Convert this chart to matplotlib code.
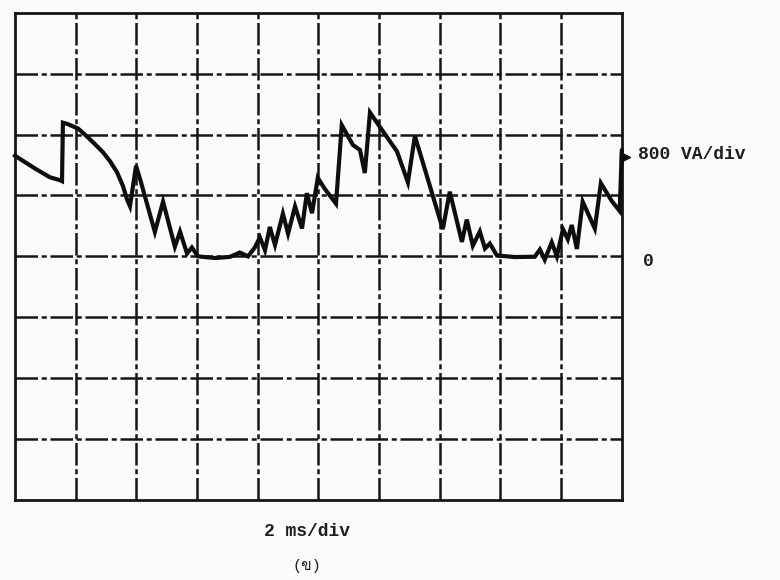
import matplotlib
matplotlib.use("Agg")
import matplotlib.pyplot as plt
from matplotlib import font_manager
from matplotlib.ft2font import FT2Font

# ---- data (time in ms, power in VA) ----
time_ms = [0.00, 0.66, 1.15, 1.48, 1.55, 1.58, 1.71, 2.08, 2.37, 2.64, 2.90, 3.13,
           3.36, 3.56, 3.69, 3.79, 3.99, 4.15, 4.61, 4.88, 5.27, 5.44, 5.67, 5.83,
           6.03, 6.59, 7.08, 7.41, 7.68, 7.91, 8.07, 8.24, 8.40, 8.57, 8.83, 9.00,
           9.23, 9.46, 9.62, 9.79, 9.98, 10.21, 10.58, 10.77, 11.14, 11.37, 11.53,
           11.70, 12.13, 12.59, 12.95, 13.18, 14.10, 14.33, 14.73, 14.89, 15.09,
           15.32, 15.49, 15.65, 15.88, 16.47, 17.13, 17.30, 17.46, 17.69, 17.86,
           18.06, 18.22, 18.35, 18.52, 18.71, 19.11, 19.31, 19.67, 19.93, 20.00]
power_va = [1322, 1154, 1039, 1001, 988, 1756, 1742, 1679, 1576, 1472, 1368, 1251,
            1107, 923, 751, 659, 1190, 978, 321, 719, 127, 325, 37, 116,
            0, -22, -7, 50, 0, 119, 251, 81, 386, 149, 561, 298,
            656, 366, 830, 567, 1031, 887, 692, 1724, 1462, 1398, 1095,
            1890, 1641, 1379, 972, 1582, 358, 849, 190, 483, 140,
            327, 103, 169, 13, -9, -5, 89, -44, 184, 0,
            357, 225, 412, 97, 719, 365, 961, 726, 595, 1388]

x_divisions = 10
y_divisions = 8
ms_per_div = 2
va_per_div = 800

y_label = "800 VA/div"
zero_label = "0"
x_label = "2 ms/div"
caption = "(\u0e02)"


def find_font_for(ch):
    for f in font_manager.fontManager.ttflist:
        try:
            if ord(ch) in FT2Font(f.fname).get_charmap():
                return f.name
        except Exception:
            pass
    return None


thai_font = find_font_for("\u0e02")
mono = "Liberation Mono"
cap_family = [mono] + ([thai_font] if thai_font else []) + ["DejaVu Sans"]

fig = plt.figure(figsize=(7.8, 5.8), dpi=100)
fig.patch.set_facecolor("#fcfbfb")
ax = fig.add_axes([0.0192, 0.138, 0.778, 0.840])
ax.set_facecolor("#fcfbfb")

xmax = x_divisions * ms_per_div
ymax = (y_divisions // 2) * va_per_div
ax.set_xlim(0, xmax)
ax.set_ylim(-ymax, ymax)

grid_style = dict(color="#161616", lw=1.8, ls=(0, (9, 1.5, 2, 1.5)), zorder=1)
for i in range(1, x_divisions):
    ax.axvline(i * ms_per_div, **grid_style)
for j in range(-(y_divisions // 2) + 1, y_divisions // 2):
    ax.axhline(j * va_per_div, **grid_style)

for s in ax.spines.values():
    s.set_color("#161616")
    s.set_linewidth(2.0)
ax.set_xticks([])
ax.set_yticks([])

ax.plot(time_ms, power_va, color="#0e0e0e", lw=3.0, solid_joinstyle="miter",
        zorder=3, clip_on=False)
ax.plot([time_ms[-1] + 0.12], [power_va[-1] - 80], marker=">", color="#0e0e0e",
        ms=7, zorder=3, clip_on=False)

txt = dict(fontsize=13, color="#1e1e1e", fontweight="bold")
fig.text(638 / 780, 1 - 155 / 580, y_label, family=[mono, "DejaVu Sans"],
         va="center", ha="left", **txt)
fig.text(643 / 780, 1 - 262 / 580, zero_label, family=[mono, "DejaVu Sans"],
         va="center", ha="left", **txt)
fig.text(307 / 780, 1 - 532 / 580, x_label, family=[mono, "DejaVu Sans"],
         va="center", ha="center", **txt)
fig.text(307 / 780, 1 - 566 / 580, caption, family=cap_family,
         fontsize=11, va="center", ha="center", color="#1e1e1e")

fig.savefig("out.png", dpi=100, facecolor=fig.get_facecolor())
